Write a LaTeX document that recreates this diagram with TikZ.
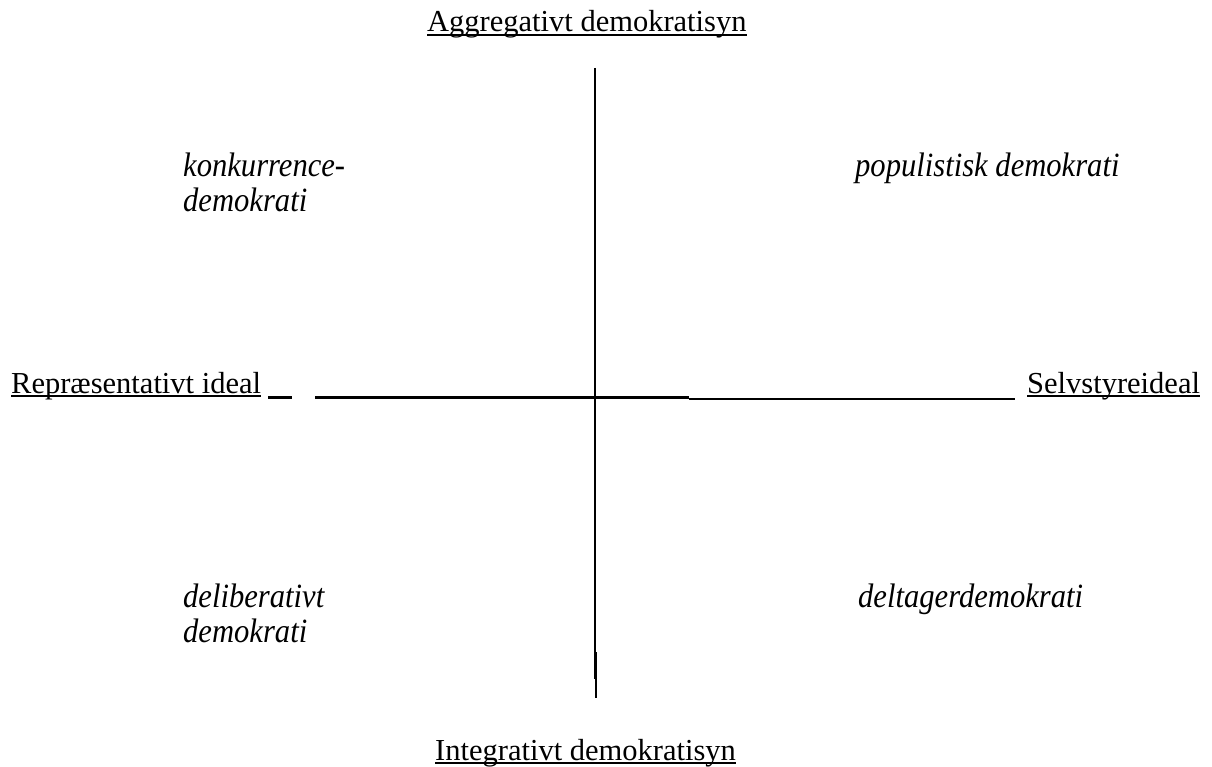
\documentclass[tikz,border=0pt]{standalone}
\usepackage{fontspec}
\setmainfont{Liberation Serif}
\newfontfamily\typefont{Liberation Serif Italic}
\tikzset{
  axislabel/.style={inner sep=0pt, anchor=base west, font=\fontsize{30.5}{37}\selectfont},
  typelabel/.style={inner sep=0pt, anchor=base west, align=left, xscale=0.9, transform shape,
    font=\fontsize{34}{35}\selectfont\typefont},
  uline/.style={line width=1.6pt},
  thickaxis/.style={line width=3pt},
  thinaxis/.style={line width=2pt},
}
\begin{document}
\begin{tikzpicture}[x=1pt,y=-1pt]
\useasboundingbox (0,0) rectangle (1212,767);
%%%%%%%%%%%%%%%%
\node[axislabel] (aggr) at (427,32) {Aggregativt demokratisyn};
\draw[uline] ([yshift=-3pt]aggr.base west) -- ([yshift=-3pt]aggr.base east);
\node[axislabel] (integ) at (435,760) {Integrativt demokratisyn};
\draw[uline] ([yshift=-3pt]integ.base west) -- ([yshift=-3pt]integ.base east);
%%%%%%%%%%%%%%%%
\node[axislabel] (repr) at (11,393) {Repræsentativt ideal};
\draw[uline] ([yshift=-3pt]repr.base west) -- ([yshift=-3pt]repr.base east);
\node[axislabel] (selv) at (1027,393) {Selvstyreideal};
\draw[uline] ([yshift=-3pt]selv.base west) -- ([yshift=-3pt]selv.base east);
%%%%%%%%%%%%%%%%
\coordinate (h0) at (268,397);
\coordinate (h1) at (292,397);
\coordinate (h2) at (315,397);
\coordinate (h3) at (689,397);
\coordinate (h4) at (689,399);
\coordinate (h5) at (1015,399);
\draw[thickaxis] (h0) -- (h1);
\draw[thickaxis] (h2) -- (h3);
\draw[thinaxis] (h4) -- (h5);
%%%%%%%%%%%%%%%%
\coordinate (v0) at (595,68);
\coordinate (v1) at (595,679);
\coordinate (v2) at (596,652);
\coordinate (v3) at (596,698);
\draw[thinaxis] (v0) -- (v1);
\draw[thinaxis] (v2) -- (v3);
%%%%%%%%%%%%%%%%
\node[typelabel] (konk) at (183,212) {konkurrence-\\demokrati};
\node[typelabel] (popu) at (855,177) {populistisk demokrati};
\node[typelabel] (delib) at (183,642) {deliberativt\\demokrati};
\node[typelabel] (delt) at (858,607) {deltagerdemokrati};
\end{tikzpicture}
\end{document}
